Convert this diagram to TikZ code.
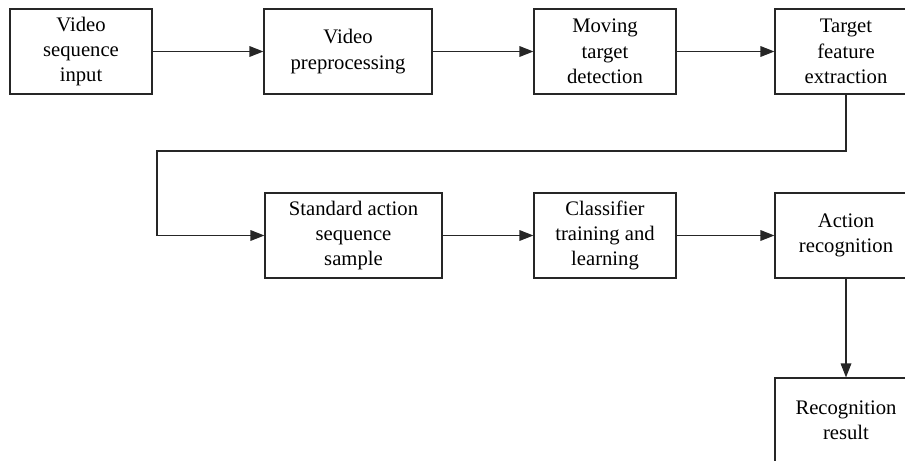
\documentclass[tikz,border=0pt]{standalone}
\usepackage{fontspec}
\setmainfont{Liberation Serif}
\usetikzlibrary{arrows.meta}
\tikzset{
	blockbox/.style={draw=black!85, line width=0.9pt, align=center, inner sep=0pt,
		minimum height=63.75pt, minimum width=106.5pt, font=\fontsize{15.5}{19}\selectfont},
	flow/.style={draw=black!85, line width=0.9pt, -{Triangle[length=10.5pt,width=8pt]}}
}
\begin{document}
\begin{tikzpicture}[x=0.75pt, y=-0.75pt]
		\useasboundingbox (0,0) rectangle (905,460);
		\clip (0,0) rectangle (905,460);

		% first row
		\node[blockbox] (vin) at (81, 51.5) {Video\\sequence\\input};
		\node[blockbox, minimum width=126pt] (vpre) at (348, 51.5) {Video\\preprocessing};
		\node[blockbox] (mtd) at (605, 51.5) {Moving\\target\\detection};
		\node[blockbox] (tfe) at (846, 51.5) {Target\\feature\\extraction};

		% second row
		\node[blockbox, minimum width=132.75pt] (sas) at (353.5, 235.5) {Standard action\\sequence\\sample};
		\node[blockbox] (ctl) at (605, 235.5) {Classifier\\training and\\learning};
		\node[blockbox] (ar) at (846, 235.5) {Action\\recognition};

		% result
		\node[blockbox] (rr) at (846, 420.5) {Recognition\\result};

		\coordinate (turn) at (157, 151);

		\draw[flow] (vin) -- (vpre);
		\draw[flow] (vpre) -- (mtd);
		\draw[flow] (mtd) -- (tfe);
		\draw[flow] (tfe.south) |- (turn) |- (sas.west);
		\draw[flow] (sas) -- (ctl);
		\draw[flow] (ctl) -- (ar);
		\draw[flow] (ar) -- (rr);
	\end{tikzpicture}
\end{document}
